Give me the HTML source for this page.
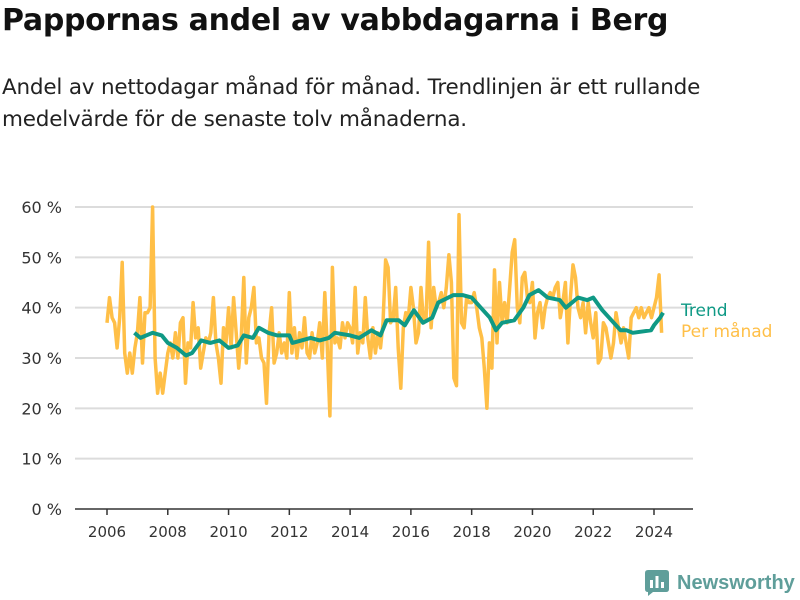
<!DOCTYPE html>
<html><head><meta charset="utf-8">
<style>
body{margin:0;width:800px;height:600px;background:#fff;font-family:"Liberation Sans","DejaVu Sans",sans-serif;overflow:hidden;position:relative}
#title{position:absolute;left:2px;top:3px;font-size:30px;font-weight:bold;color:#111;font-family:"DejaVu Sans",sans-serif;letter-spacing:-0.3px}
#sub{position:absolute;left:2px;top:72px;font-size:21.5px;line-height:32px;color:#222;font-family:"DejaVu Sans",sans-serif;letter-spacing:-0.2px}
svg{position:absolute;left:0;top:0}
</style></head><body>
<div id="title">Pappornas andel av vabbdagarna i Berg</div>
<div id="sub">Andel av nettodagar månad för månad. Trendlinjen är ett rullande<br>medelvärde för de senaste tolv månaderna.</div>
<svg id="chart" width="800" height="600"></svg>
<script>
const monthly = [
37,42,38,37,32,38,49,31,27,31,27,32,
35,42,29,39,39,40,60,30,23,27,23,27,
31,33,30,35,30,37,38,25,33,32,41,34,
36,28,31,34,33,35,42,33,30,25,36,33,
40,32,42,35,28,34,46,29,38,40,44,33,
34,30,29,21,35,40,29,31,35,31,33,30,
43,31,36,30,35,32,38,31,30,35,31,33,
37,30,43,32,18.5,48,33,34,32,37,34,37,
36,33,44,31,35,33,42,34,30,36,31,35,
32,37,49.5,48,37,38,44,32,24,36,39,38,
44,40,33,35,44,37,38,53,36,44,40,41,
43,40,44,50.5,45,26,24.5,58.5,37,36,42,41,
41,43,40,36,34,28,20,33,28,47.5,33,45,
37,41,37,44,51,53.5,40,37,46,47,42,41,
45,34,39,41,36,40,42,43,42,44,45,38,
41,45,33,42,48.5,46,40,38,41,35,41,37,
34,39,29,30,37,36,33,30,33,39,36,33,
36,33,30,38,39,40,38,40,38,39,40,38,
40,42,46.5,35];
const startYear = 2006;
const trendDates = [2006.9,2007.1,2007.5,2007.8,2008.0,2008.3,2008.6,2008.8,2009.1,2009.4,2009.7,2010.0,2010.3,2010.5,2010.8,2011.0,2011.3,2011.6,2012.0,2012.1,2012.4,2012.7,2013.0,2013.3,2013.5,2014.0,2014.3,2014.7,2015.0,2015.2,2015.6,2015.8,2016.1,2016.4,2016.7,2016.9,2017.4,2017.7,2018.0,2018.3,2018.6,2018.8,2019.0,2019.4,2019.7,2019.9,2020.2,2020.5,2020.9,2021.1,2021.5,2021.8,2022.0,2022.3,2022.6,2022.9,2023.1,2023.3,2023.9,2024.0,2024.2,2024.3];
const trendValues = [35,34,35,34.5,33,32,30.5,31,33.5,33,33.5,32,32.5,34.5,34,36,35,34.5,34.5,33,33.5,34,33.5,34,35,34.5,34,35.5,34.5,37.5,37.5,36.5,39.5,37,38,41,42.5,42.5,42,40,38,35.5,37,37.5,40,42.5,43.5,42,41.5,40,42,41.5,42,39.5,37.5,35.5,35.5,35,35.5,36.5,38,39];
const yTicks = [0,10,20,30,40,50,60];
const xTicks = [2006,2008,2010,2012,2014,2016,2018,2020,2022,2024];

const svg = document.getElementById('chart');
const NS='http://www.w3.org/2000/svg';
const X0=107, X1=654, Y0=509, Y1=207;
const xs = t => X0 + (t-2006)*(X1-X0)/18;
const ys = v => Y0 - v*(Y0-Y1)/60;
function mk(tag, attrs){const e=document.createElementNS(NS,tag);for(const k in attrs)e.setAttribute(k,attrs[k]);svg.appendChild(e);return e;}

yTicks.forEach(v=>{
  const g=mk('line',{x1:75,x2:693,y1:ys(v),y2:ys(v),stroke:v===0?'#333':'#dcdcdc','stroke-width':v===0?1.5:2});
  
  
  const t=mk('text',{x:62,y:ys(v)+6,'text-anchor':'end','font-size':16,fill:'#333','font-family':'DejaVu Sans, sans-serif'});
  t.textContent=v+' %';
  
  
});
xTicks.forEach(y=>{
  const l=mk('line',{x1:xs(y),x2:xs(y),y1:Y0,y2:Y0+6,stroke:'#333','stroke-width':1.5});
  
  
  const t=mk('text',{x:xs(y),y:537,'text-anchor':'middle','font-size':15,fill:'#333','font-family':'DejaVu Sans, sans-serif'});
  t.textContent=y;
  
  
});
const mp = monthly.map((v,i)=>xs(startYear+i/12).toFixed(1)+','+ys(v).toFixed(1)).join(' ');
const pl=mk('polyline',{points:mp,fill:'none',stroke:'#ffbf47','stroke-width':3.5,'stroke-linejoin':'round'});


const tp = trendDates.map((d,i)=>xs(d).toFixed(1)+','+ys(trendValues[i]).toFixed(1)).join(' ');
const tl=mk('polyline',{points:tp,fill:'none',stroke:'#0f9985','stroke-width':4,'stroke-linejoin':'round'});


const l1=mk('text',{x:681,y:316,'font-size':17,fill:'#0f9985','font-family':'DejaVu Sans, sans-serif'});
l1.textContent='Trend';


const l2=mk('text',{x:681,y:337,'font-size':17,fill:'#ffbf47','font-family':'DejaVu Sans, sans-serif'});
l2.textContent='Per månad';


</script>
<div style="position:absolute;left:645px;top:570px;display:flex;align-items:center">
 <svg width="24" height="26" style="position:static"><path d="M0 3 Q0 0 3 0 H21 Q24 0 24 3 V19 Q24 22 21 22 H8 L3 26 V22 Q0 22 0 19Z" fill="#5f9e9a"/><rect x="5" y="10" width="3" height="8" fill="#fff"/><rect x="10.5" y="6" width="3" height="12" fill="#fff"/><rect x="16" y="12" width="3" height="6" fill="#fff"/></svg>
 <span style="margin-left:8px;font-size:20px;font-weight:bold;color:#5f9e9a;font-family:'Liberation Sans',sans-serif">Newsworthy</span>
</div>
</body></html>
